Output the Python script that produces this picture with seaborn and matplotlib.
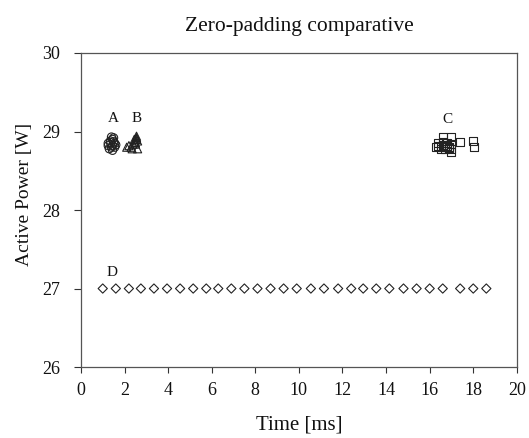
import matplotlib
matplotlib.use("Agg")
import matplotlib.pyplot as plt
import seaborn as sns
import pandas as pd

# values
a_time = [1.25, 1.35, 1.45, 1.55, 1.3, 1.4, 1.5, 1.6, 1.35, 1.45, 1.55, 1.25, 1.4, 1.5, 1.45]
a_power = [28.82, 28.88, 28.9, 28.85, 28.78, 28.8, 28.92, 28.83, 28.86, 28.76, 28.8, 28.85, 28.93, 28.87, 28.82]

b_time = [2.1, 2.2, 2.3, 2.4, 2.5, 2.55, 2.6, 2.5, 2.55, 2.45, 2.6, 2.35, 2.5, 2.55]
b_power = [28.8, 28.82, 28.8, 28.84, 28.9, 28.92, 28.88, 28.86, 28.94, 28.9, 28.78, 28.78, 28.84, 28.9]

c_time = [16.3, 16.4, 16.5, 16.6, 16.7, 16.8, 16.9, 17.0, 16.4, 16.5, 16.6, 16.7, 16.8, 16.9, 17.0,
          16.6, 17.0, 17.0, 17.4, 18.0, 18.05]
c_power = [28.8, 28.82, 28.8, 28.83, 28.8, 28.82, 28.8, 28.84, 28.85, 28.78, 28.86, 28.78, 28.85, 28.79, 28.78,
           28.93, 28.93, 28.74, 28.87, 28.88, 28.8]

d_time = [1.0, 1.6, 2.2, 2.75, 3.35, 3.95, 4.55, 5.15, 5.75, 6.3, 6.9, 7.5, 8.1, 8.7, 9.3,
          9.9, 10.55, 11.15, 11.8, 12.4, 12.95, 13.55, 14.15, 14.8, 15.4, 16.0, 16.6, 17.4, 18.0, 18.6]
d_power = [27.0] * len(d_time)

series_labels = ["A", "B", "C", "D"]
label_pos = [(1.47, 29.17), (2.57, 29.17), (16.8, 29.15), (1.42, 27.2)]

x_ticks = [0, 2, 4, 6, 8, 10, 12, 14, 16, 18, 20]
y_ticks = [26, 27, 28, 29, 30]

sns.set_style("ticks")
plt.rcParams["font.family"] = ["Liberation Serif", "DejaVu Serif"]

fig = plt.figure(figsize=(5.29, 4.38), dpi=100)
ax = fig.add_axes([0.153, 0.162, 0.824, 0.717])

df_a = pd.DataFrame({"t": a_time, "p": a_power})
df_b = pd.DataFrame({"t": b_time, "p": b_power})
df_c = pd.DataFrame({"t": c_time, "p": c_power})
df_d = pd.DataFrame({"t": d_time, "p": d_power})

common = dict(ax=ax, x="t", y="p", facecolor="none", edgecolor="#222222", linewidth=0.8, s=34)
sns.scatterplot(data=df_a, marker="o", **common)
sns.scatterplot(data=df_b, marker="^", **common)
sns.scatterplot(data=df_c, marker="s", **common)
sns.scatterplot(data=df_d, marker="D", **dict(common, s=22))

for lab, (lx, ly) in zip(series_labels, label_pos):
    ax.text(lx, ly, lab, ha="center", va="center", fontsize=11, color="#111111")

ax.set_xlim(0, 20)
ax.set_ylim(26, 30)
ax.set_xticks(x_ticks)
ax.set_yticks(y_ticks)
ax.tick_params(direction="out", width=0.8, labelsize=13, colors="#333333",
               labelcolor="#111111")
ax.tick_params(axis="x", length=4, pad=7)
ax.tick_params(axis="y", length=5, pad=10)
for sp in ax.spines.values():
    sp.set_color("#555555")
    sp.set_linewidth(0.9)

ax.set_xlabel("Time [ms]", fontsize=15, color="#111111", labelpad=12)
ax.set_ylabel("Active Power [W]", fontsize=14, color="#111111")
ax.yaxis.set_label_coords(-0.11, 0.55)
ax.set_title("Zero-padding comparative", fontsize=15.5, color="#111111", pad=16)

fig.savefig("out.png", dpi=100)
